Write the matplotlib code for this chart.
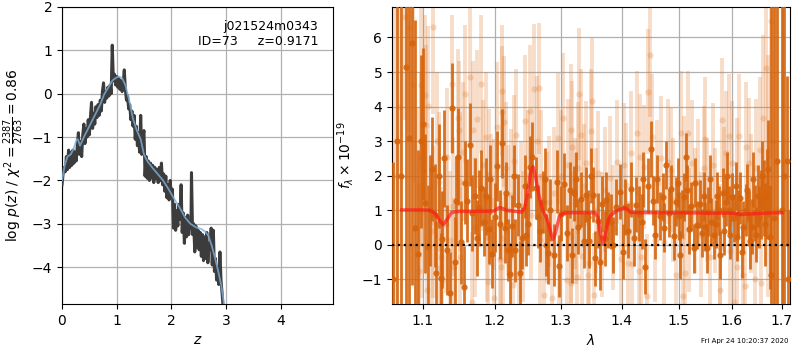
import numpy as np
import matplotlib
matplotlib.use("Agg")
import matplotlib.pyplot as plt
from matplotlib.ticker import NullLocator

# ---------------- left panel: log p(z) ----------------
pz_z = [0.00, 0.02, 0.04, 0.06, 0.08, 0.10, 0.12, 0.14, 0.16, 0.18, 0.20, 0.22, 0.24, 0.26, 0.28,
        0.30, 0.32, 0.34, 0.36, 0.38, 0.40, 0.42, 0.44, 0.46, 0.48, 0.50, 0.52, 0.54, 0.56, 0.58,
        0.60, 0.62, 0.64, 0.66, 0.68, 0.70, 0.72, 0.74, 0.76, 0.78, 0.80, 0.82, 0.84, 0.86, 0.88,
        0.90, 0.92, 0.94, 0.96, 0.98, 1.00, 1.02, 1.04, 1.06, 1.08, 1.10, 1.12, 1.14, 1.16, 1.18,
        1.20, 1.22, 1.24, 1.26, 1.28, 1.30, 1.32, 1.34, 1.36, 1.38, 1.40, 1.42, 1.44, 1.46, 1.48,
        1.50, 1.52, 1.54, 1.56, 1.58, 1.60, 1.62, 1.64, 1.66, 1.68, 1.70, 1.72, 1.74, 1.76, 1.78,
        1.80, 1.82, 1.84, 1.86, 1.88, 1.90, 1.92, 1.94, 1.96, 1.98, 2.00, 2.02, 2.04, 2.06, 2.08,
        2.10, 2.12, 2.14, 2.16, 2.18, 2.20, 2.22, 2.24, 2.26, 2.28, 2.30, 2.32, 2.34, 2.36, 2.37,
        2.39, 2.41, 2.43, 2.45, 2.47, 2.49, 2.51, 2.53, 2.55, 2.57, 2.59, 2.61, 2.63, 2.65, 2.67,
        2.69, 2.71, 2.73, 2.75, 2.77, 2.79, 2.81, 2.83, 2.85, 2.87, 2.89, 2.91, 2.93, 2.95]
pz_logp = [-2.10, -1.85, -1.70, -1.80, -1.45, -1.75, -1.30, -1.70, -1.35, -1.65, -1.30, -1.60, -1.35, -1.55, -1.20,
           -0.90, -1.40, -1.10, -1.45, -0.95, -0.70, -1.15, -0.80, -1.00, -0.60, -0.95, -0.55, -0.20, -0.80, -0.45,
           -0.70, -0.30, -0.55, -0.25, -0.50, -0.15, -0.40, 0.05, 0.25, -0.20, 0.05, -0.10, 0.15, -0.05, 0.20,
           0.00, 1.12, 0.30, 0.45, 0.20, 0.40, 0.15, 0.35, 0.10, 0.30, 0.05, 0.25, 0.55, 0.10, -0.15,
           -0.05, -0.35, -0.25, -0.60, -0.40, -0.75, -0.50, -1.05, -0.75, -1.20, -0.90, -1.35, -0.50, -1.40, -1.00,
           -0.85, -1.90, -1.45, -1.95, -1.55, -2.00, -1.60, -1.95, -1.65, -2.05, -1.70, -1.95, -1.75, -2.05, -1.70,
           -2.00, -1.60, -2.10, -1.85, -2.25, -1.90, -2.40, -2.10, -2.45, -2.00, -2.35, -2.20, -3.10, -2.55, -3.15,
           -2.70, -3.05, -2.55, -2.90, -2.10, -3.20, -2.75, -3.45, -2.85, -3.30, -2.80, -3.25, -2.95, -3.10, -1.82,
           -3.25, -3.00, -3.65, -3.05, -3.55, -3.15, -3.60, -3.20, -3.75, -3.25, -3.85, -3.30, -3.80, -3.20, -3.90,
           -3.45, -3.60, -3.10, -3.95, -3.15, -4.10, -3.80, -4.30, -4.00, -4.40, -3.65, -4.30, -4.60, -4.95]

smooth_z = [0.00, 0.05, 0.10, 0.16, 0.22, 0.26, 0.29, 0.33, 0.40, 0.50, 0.60, 0.70, 0.77, 0.85, 0.92,
            0.98, 1.04, 1.10, 1.16, 1.22, 1.30, 1.37, 1.44, 1.50, 1.56, 1.65, 1.75, 1.85, 1.95, 2.05,
            2.15, 2.25, 2.35, 2.45, 2.55, 2.62, 2.68, 2.74, 2.80, 2.86, 2.92, 2.97]
smooth_logp = [-2.00, -1.65, -1.45, -1.40, -1.25, -1.08, -1.05, -1.20, -1.00, -0.75, -0.50, -0.25, -0.02, 0.15, 0.30,
               0.36, 0.40, 0.36, 0.20, -0.10, -0.58, -0.85, -1.05, -1.40, -1.55, -1.70, -1.85, -2.00, -2.20, -2.42,
               -2.62, -2.85, -3.00, -3.08, -3.12, -3.18, -3.28, -3.50, -3.78, -4.10, -4.45, -4.90]

# ---------------- right panel: spectrum ----------------
dark_wave = [1.061, 1.066, 1.071, 1.0775, 1.082, 1.086, 1.089, 1.093, 1.097, 1.103, 1.107, 1.112, 1.116, 1.118,
             1.122, 1.124, 1.126, 1.133, 1.136, 1.140, 1.145, 1.148, 1.152, 1.156, 1.161, 1.164, 1.168, 1.172,
             1.177, 1.180, 1.184, 1.188, 1.191, 1.196, 1.204, 1.207, 1.211, 1.215, 1.219, 1.223, 1.226, 1.230,
             1.235, 1.241, 1.245, 1.250, 1.253, 1.256, 1.261, 1.264, 1.272, 1.277, 1.280, 1.289, 1.294, 1.300,
             1.305, 1.310, 1.315, 1.321, 1.327, 1.332, 1.337, 1.340, 1.346, 1.352, 1.356, 1.361, 1.367, 1.371,
             1.377, 1.382, 1.397, 1.411, 1.416, 1.421, 1.425, 1.434, 1.440, 1.445, 1.450, 1.454, 1.466, 1.471,
             1.477, 1.482, 1.487, 1.492, 1.496, 1.500, 1.510, 1.5135, 1.519, 1.522, 1.528, 1.534, 1.539, 1.543,
             1.549, 1.555, 1.561, 1.566, 1.572, 1.577, 1.582, 1.588, 1.594, 1.601, 1.605, 1.610, 1.616, 1.622,
             1.627, 1.633, 1.639, 1.645, 1.651, 1.657, 1.663, 1.669, 1.675, 1.678, 1.684, 1.690, 1.700, 1.705,
             1.711, 1.713,
             1.100, 1.110, 1.129, 1.143, 1.158, 1.175, 1.193, 1.200, 1.217, 1.228, 1.238, 1.247, 1.268, 1.275,
             1.284, 1.297, 1.318, 1.324, 1.343, 1.349, 1.364, 1.374, 1.386, 1.391, 1.402, 1.406, 1.429, 1.437,
             1.458, 1.462, 1.474, 1.498, 1.503, 1.507, 1.516, 1.531, 1.546, 1.552, 1.558, 1.569, 1.575, 1.585,
             1.591, 1.597, 1.608, 1.613, 1.619, 1.630, 1.636, 1.642, 1.648, 1.654, 1.660, 1.666, 1.672]
dark_flux = [-1.00, 3.00, 2.00, 5.15, 3.10, 5.83, 0.50, -0.26, 3.00, 1.20, -0.07, 2.20, 0.85, -0.82,
             2.00, -0.96, 0.16, -0.16, -1.40, 3.95, 1.28, 2.55, 0.08, -1.23, 1.28, 2.90, 0.92, 1.42,
             1.06, 1.64, 0.67, 1.40, 0.45, -0.26, 2.28, 0.60, 2.94, 0.48, -0.14, -0.84, 0.55, -0.16,
             1.16, 0.19, 1.69, 0.61, 2.26, 2.55, 1.64, 0.82, 1.25, 0.00, -0.23, -0.29, 1.83, 0.90,
             1.76, 0.34, 1.59, 1.49, 0.53, 1.32, 0.12, 1.45, 0.12, 1.45, -0.39, 0.70, 1.18, 0.19,
             0.72, 0.67, 1.54, 0.41, 1.61, 0.19, 1.16, 0.67, -0.63, 1.71, 2.77, 1.28, 0.84, 1.38,
             2.31, 0.93, 1.61, 0.26, 1.25, 0.84, 1.38, 2.55, 0.45, 1.11, -0.10, 0.58, 1.18, 0.34,
             0.53, 0.96, 0.67, 0.29, 1.42, -0.29, 1.51, 1.25, 1.01, 1.38, 0.77, 0.22, 1.35, 0.53,
             1.01, 0.77, 0.53, 0.92, 1.42, 1.18, 1.35, 1.47, 0.22, -0.87, 0.77, 2.43, 1.00, 2.00,
             2.43, -1.00,
             3.50, 1.00, 2.50, -0.50, 1.80, 0.20, 1.90, 0.80, 1.50, 2.00, -0.80, 0.30, 0.40, 1.90,
             1.00, -0.60, -0.30, 1.90, 0.80, 2.00, -0.50, 1.30, 0.00, 1.10, -0.20, 1.10, 0.90, 1.90,
             0.30, 1.90, 0.50, 1.80, -0.30, 0.90, 1.60, 1.80, 1.40, -0.10, 1.90, 0.60, 1.00, 0.40,
             2.00, 0.30, 1.70, 0.90, -0.20, 1.60, 0.10, 1.90, 0.30, 0.80, 2.00, 0.60, 2.20]
dark_err = [3.4, 8.0, 8.0, 7.0, 7.0, 7.0, 6.0, 3.0, 2.5, 2.0, 1.8, 1.5, 1.5, 1.5,
            1.5, 1.3, 1.4, 1.3, 1.2, 1.3, 1.3, 1.4, 1.2, 1.2, 1.2, 1.2, 1.1, 1.1,
            1.1, 1.1, 1.0, 1.1, 1.0, 1.0, 1.0, 1.0, 1.0, 1.0, 0.9, 0.9, 0.9, 0.9,
            0.9, 0.9, 0.9, 0.9, 0.9, 1.0, 0.9, 0.9, 0.9, 0.9, 0.9, 0.9, 0.9, 0.8,
            0.9, 0.8, 0.8, 0.8, 0.8, 0.8, 0.8, 0.8, 0.8, 0.8, 0.8, 0.8, 0.8, 0.8,
            0.8, 0.8, 0.8, 0.8, 0.8, 0.8, 0.8, 0.8, 0.8, 0.8, 0.8, 0.7, 0.7, 0.7,
            0.7, 0.7, 0.7, 0.7, 0.7, 0.7, 0.7, 0.7, 0.7, 0.7, 0.7, 0.7, 0.7, 0.7,
            0.7, 0.7, 0.7, 0.7, 0.7, 0.7, 0.7, 0.7, 0.7, 0.7, 0.7, 0.7, 0.75, 0.75,
            0.75, 0.8, 0.8, 0.8, 0.9, 1.0, 1.1, 1.3, 1.5, 8.0, 8.0, 8.0, 8.0, 8.0,
            2.45, 2.0,
            2.2, 1.6, 1.4, 1.3, 1.2, 1.1, 1.0, 1.0, 0.9, 0.9, 0.9, 0.9, 0.9, 0.9,
            0.9, 0.9, 0.8, 0.8, 0.8, 0.8, 0.8, 0.8, 0.8, 0.8, 0.8, 0.8, 0.8, 0.8,
            0.7, 0.7, 0.7, 0.7, 0.7, 0.7, 0.7, 0.7, 0.7, 0.7, 0.7, 0.7, 0.7, 0.7,
            0.7, 0.7, 0.7, 0.7, 0.75, 0.75, 0.8, 0.8, 0.8, 0.9, 1.0, 1.2, 1.4]

light_wave = [1.063, 1.070, 1.076, 1.082, 1.087, 1.092, 1.095, 1.097, 1.098, 1.0985, 1.103, 1.104, 1.106, 1.107,
              1.112, 1.113, 1.114, 1.119, 1.122, 1.1225, 1.124, 1.126, 1.131, 1.132, 1.137, 1.140, 1.141, 1.1415,
              1.148, 1.1485, 1.150, 1.151, 1.155, 1.158, 1.165, 1.167, 1.169, 1.172, 1.175, 1.180, 1.183, 1.188,
              1.189, 1.190, 1.192, 1.195, 1.199, 1.1995, 1.203, 1.208, 1.2085, 1.210, 1.211, 1.212, 1.213, 1.216,
              1.220, 1.224, 1.227, 1.229, 1.231, 1.236, 1.239, 1.242, 1.245, 1.249, 1.253, 1.254, 1.258, 1.263,
              1.267, 1.2675, 1.270, 1.274, 1.278, 1.282, 1.287, 1.290, 1.295, 1.298, 1.301, 1.304, 1.310, 1.311,
              1.316, 1.3165, 1.317, 1.318, 1.322, 1.325, 1.326, 1.327, 1.329, 1.332, 1.334, 1.337, 1.340, 1.344,
              1.345, 1.348, 1.351, 1.354, 1.357, 1.361, 1.366, 1.372, 1.380, 1.386, 1.392, 1.398, 1.404, 1.407,
              1.411, 1.415, 1.418, 1.426, 1.429, 1.431, 1.433, 1.438, 1.443, 1.445, 1.448, 1.453, 1.458, 1.462,
              1.468, 1.474, 1.480, 1.487, 1.489, 1.496, 1.505, 1.508, 1.510, 1.512, 1.517, 1.519, 1.524, 1.530,
              1.535, 1.541, 1.546, 1.549, 1.553, 1.558, 1.563, 1.568, 1.577, 1.5775, 1.581, 1.585, 1.589, 1.594,
              1.596, 1.601, 1.605, 1.610, 1.6105, 1.614, 1.622, 1.625, 1.627, 1.633, 1.638, 1.645, 1.648, 1.655,
              1.657, 1.661, 1.668, 1.672, 1.677, 1.682, 1.688]
light_flux = [2.00, 4.00, 6.60, 6.26, 4.62, 1.00, -0.77, 2.50, 4.62, 0.96, 4.34, 3.47, -1.30, 4.02,
              0.41, 6.29, 0.67, 3.00, 1.83, -0.67, -0.34, -1.01, 0.61, 2.55, 0.14, 4.65, 1.11, -0.64,
              3.66, 3.32, -0.34, 1.83, 2.70, 4.36, 4.86, -1.64, 3.32, 0.50, 3.64, 4.65, 2.30, 3.11,
              0.24, -1.06, 2.02, 1.30, 1.16, -1.54, 3.40, -0.41, -0.63, 3.85, 4.46, 0.19, 3.56, 2.22,
              1.00, 1.45, -1.16, 2.44, 3.18, -0.87, 1.11, 0.24, 3.59, 2.00, 3.88, 0.87, 4.50, 2.99,
              4.53, 0.14, 2.00, -1.45, 0.80, 1.25, -1.54, 1.50, 3.08, 0.05, 2.00, 3.66, -1.01, 2.31,
              3.32, 0.22, -1.11, 2.84, 1.20, 0.77, -0.92, 2.22, 4.36, 3.18, -0.32, 1.70, 2.36, -0.87,
              -0.53, 3.30, 4.17, -1.45, 1.00, 2.07, 0.30, 1.60, 1.93, 0.50, 2.40, -0.40, 2.31, 1.73,
              -0.53, 2.65, -0.55, 3.23, -0.77, 2.55, -0.34, 2.26, -1.49, 4.43, 5.49, 3.13, 0.14, 1.80,
              2.50, 0.07, 2.41, 2.17, 1.30, -0.87, 3.23, -1.49, 1.93, -0.82, 3.23, 0.43, 2.38, 1.00,
              1.83, 0.30, 2.22, 3.05, 1.30, -0.34, 2.31, 1.00, -0.05, -1.30, 3.61, 1.60, 2.65, 3.15,
              -0.19, 2.36, -1.64, 1.88, -0.63, 3.15, -0.87, -1.18, 2.82, 2.36, 1.20, -0.99, 2.22, 2.75,
              -1.11, 3.66, 5.11, 2.00, 6.48, 3.00, 1.00]
light_err = [5.0, 4.0, 3.0, 3.0, 2.8, 3.0, 2.5, 2.5, 2.5, 2.5, 2.3, 2.3, 2.3, 2.3,
             2.2, 2.5, 2.2, 2.0, 2.0, 2.0, 2.0, 2.0, 2.0, 2.0, 2.0, 2.0, 2.0, 2.0,
             2.0, 2.0, 2.0, 2.0, 2.0, 2.0, 2.0, 2.0, 2.0, 2.0, 2.0, 2.0, 1.9, 1.9,
             1.9, 1.9, 1.9, 1.9, 1.9, 1.9, 1.9, 1.9, 1.9, 1.9, 1.9, 1.9, 1.9, 1.9,
             1.9, 1.9, 1.9, 1.9, 1.9, 1.9, 1.9, 1.9, 1.9, 1.9, 1.9, 1.9, 1.9, 1.9,
             1.9, 1.9, 1.9, 1.9, 1.9, 1.9, 1.9, 1.9, 1.9, 1.9, 1.9, 1.9, 1.9, 1.9,
             1.9, 1.9, 1.9, 1.9, 1.9, 1.9, 1.9, 1.9, 1.9, 1.9, 1.9, 1.8, 1.8, 1.8,
             1.8, 1.8, 1.8, 1.8, 1.8, 1.8, 1.8, 1.8, 1.8, 1.8, 1.8, 1.8, 1.8, 1.8,
             1.8, 1.8, 1.8, 1.8, 1.8, 1.8, 1.8, 1.8, 1.8, 1.8, 1.8, 1.8, 1.8, 1.8,
             1.8, 1.8, 1.8, 1.8, 1.8, 1.8, 1.8, 1.8, 1.8, 1.8, 1.8, 1.8, 1.8, 1.8,
             1.8, 1.8, 1.8, 1.8, 1.8, 1.8, 1.8, 1.8, 1.8, 1.8, 1.8, 1.8, 1.8, 1.8,
             1.8, 1.8, 1.8, 1.8, 1.8, 1.8, 1.9, 1.9, 1.9, 1.9, 2.0, 2.0, 2.0, 2.1,
             2.2, 2.4, 2.8, 3.5, 4.0, 5.0, 6.0]

model_wave = [1.072, 1.100, 1.109, 1.116, 1.122, 1.127, 1.132, 1.139, 1.150, 1.180, 1.199, 1.203,
              1.207, 1.212, 1.217, 1.230, 1.240, 1.244, 1.247, 1.251, 1.254, 1.257, 1.260, 1.264,
              1.267, 1.272, 1.277, 1.282, 1.285, 1.288, 1.291, 1.295, 1.298, 1.303, 1.308, 1.330,
              1.355, 1.360, 1.364, 1.369, 1.373, 1.377, 1.381, 1.390, 1.398, 1.405, 1.410, 1.415,
              1.450, 1.500, 1.560, 1.600, 1.617, 1.640, 1.670, 1.700]
model_flux = [1.01, 1.01, 1.00, 0.92, 0.72, 0.58, 0.72, 0.94, 0.97, 0.97, 0.98, 1.04,
              1.08, 1.05, 1.00, 0.97, 0.95, 1.05, 1.30, 1.80, 2.15, 2.26, 2.05, 1.65,
              1.35, 1.00, 0.82, 0.55, 0.30, 0.16, 0.30, 0.60, 0.82, 0.91, 0.93, 0.93,
              0.93, 0.80, 0.35, 0.02, 0.35, 0.70, 0.85, 0.97, 1.03, 1.07, 1.02, 0.94,
              0.93, 0.93, 0.92, 0.92, 0.88, 0.90, 0.92, 0.93]

xtick_vals = [1.1, 1.2, 1.3, 1.4, 1.5, 1.6, 1.7]
xtick_labels = ['1.1', '1.2', '1.3', '1.4', '1.5', '1.6', '1.7']
left_label_text = 'j021524m0343\nID=73     z=0.9171'
timestamp = 'Fri Apr 24 10:20:37 2020'

fig = plt.figure(figsize=(8, 3.5), dpi=100)

# left axes
ax1 = fig.add_axes([62 / 800, 46 / 350, 271 / 800, 297 / 350])
ax1.plot(pz_z, pz_logp, color='#3c3c3c', lw=2.2, zorder=3)
ax1.plot(smooth_z, smooth_logp, color='#7fb0da', lw=1.3, alpha=0.8, zorder=4)
ax1.set_xlim(0, 4.96)
ax1.set_ylim(-4.85, 2.0)
ax1.set_xticks([0, 1, 2, 3, 4])
ax1.set_yticks([-4, -3, -2, -1, 0, 1, 2])
ax1.grid(True, color='#b0b0b0', lw=0.9)
ax1.set_axisbelow(True)
ax1.set_xlabel('$z$')
ax1.set_ylabel(r'log $p(z)$ / $\chi^2=\frac{2387}{2763}=0.86$')
ax1.text(0.945, 0.957, left_label_text, ha='right', va='top',
         transform=ax1.transAxes, fontsize=9)

# right axes
ax2 = fig.add_axes([392 / 800, 46 / 350, 398 / 800, 297 / 350])
ax2.errorbar(light_wave, light_flux, yerr=light_err, color='#e07a2a', alpha=0.25,
             marker='o', ms=4.5, mew=0, linestyle='None', elinewidth=2.8, zorder=2)
ax2.errorbar(dark_wave, dark_flux, yerr=dark_err, color='#d5640c', alpha=0.9,
             marker='o', ms=4.5, mew=0, linestyle='None', elinewidth=2.0, zorder=3)
ax2.plot(model_wave, model_flux, color='#ff1a1a', lw=2.5, alpha=0.7, zorder=5)
ax2.axhline(0, color='k', linestyle=':', lw=1.6, zorder=6)
ax2.set_xscale('log')
ax2.set_xlim(1.0594, 1.717)
ax2.set_ylim(-1.71, 6.88)
ax2.set_xticks(xtick_vals, labels=xtick_labels)
ax2.xaxis.set_minor_locator(NullLocator())
ax2.set_yticks([-1, 0, 1, 2, 3, 4, 5, 6])
ax2.grid(True, color='#b0b0b0', lw=0.9)
ax2.set_axisbelow(True)
ax2.set_xlabel(r'$\lambda$')
ax2.set_ylabel(r'$f_\lambda \times 10^{-19}$')

fig.text(0.986, 0.026, timestamp, ha='right', va='center', fontsize=5)

fig.savefig('out.png', dpi=100)
